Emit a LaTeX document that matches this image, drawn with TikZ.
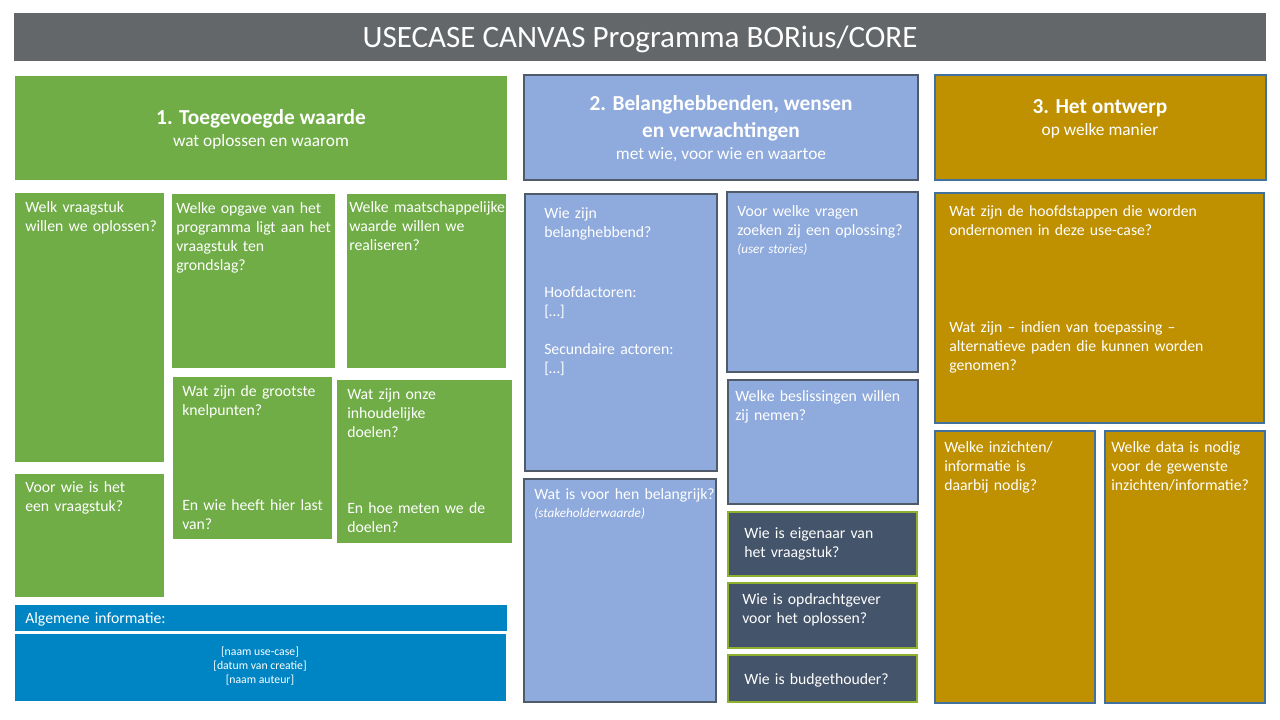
\documentclass[tikz,border=0pt]{standalone}
\usepackage{fontspec}
\setmainfont{Carlito}
\definecolor{titlegray}{HTML}{646769}
\definecolor{cgreen}{HTML}{70AD47}
\definecolor{cblue}{HTML}{8FAADC}
\definecolor{cblueline}{HTML}{4F5B68}
\definecolor{cgold}{HTML}{BF9000}
\definecolor{cgoldline}{HTML}{41719C}
\definecolor{cslate}{HTML}{44546A}
\definecolor{cslateline}{HTML}{8DB02E}
\definecolor{cinfo}{HTML}{0085C4}
\begin{document}
\begin{tikzpicture}[x=0.75pt,y=-0.75pt,
  greenbox/.style={fill=cgreen},
  bluebox/.style={fill=cblue,draw=cblueline,line width=1.5pt},
  goldbox/.style={fill=cgold,draw=cgoldline,line width=1.1pt},
  slatebox/.style={fill=cslate,draw=cslateline,line width=1.8pt},
  infobox/.style={fill=cinfo},
  txt/.style={text=white,inner sep=0pt,anchor=base west,align=left,text width=7cm,
    font=\fontsize{11.8}{14.25}\selectfont},
  note/.style={text=white,inner sep=0pt,anchor=base west,align=left,text width=7cm,
    font=\fontsize{9.9}{11}\selectfont\itshape},
  headbold/.style={text=white,inner sep=0pt,anchor=base,font=\fontsize{16}{19}\selectfont\bfseries},
  headsub/.style={text=white,inner sep=0pt,anchor=base,font=\fontsize{13}{15}\selectfont},
  titletxt/.style={text=white,inner sep=0pt,anchor=base,font=\fontsize{23.3}{27}\selectfont},
]
\useasboundingbox (0,0) rectangle (1280,720);
\fill[white] (0,0) rectangle (1280,720);

% title bar
\fill[titlegray] (14,13) rectangle (1266,61);
\node[titletxt] (title) at (640,48) {USECASE CANVAS Programma BORius/CORE};

% column headers
\fill[cgreen] (15,76) rectangle (507,180);
\node[headbold] (h1) at (261,125) {1. Toegevoegde waarde};
\node[headsub] (h1s) at (261,147) {wat oplossen en waarom};

\draw[bluebox] (524,75) rectangle (918,180);
\node[headbold] (h2a) at (721,111) {2. Belanghebbenden, wensen};
\node[headbold] (h2b) at (721,138) {en verwachtingen};
\node[headsub] (h2s) at (721,160) {met wie, voor wie en waartoe};

\draw[goldbox] (935,75) rectangle (1266,180);
\node[headbold] (h3) at (1100,114) {3. Het ontwerp};
\node[headsub] (h3s) at (1100,136) {op welke manier};

% column 1: added value
\fill[greenbox] (15,193) rectangle (164,462);
\node[txt] (a) at (25,213) {Welk vraagstuk\\willen we oplossen?};
\fill[greenbox] (172,194) rectangle (335,368);
\node[txt] (b) at (176,214) {Welke opgave van het\\programma ligt aan het\\vraagstuk ten\\grondslag?};
\fill[greenbox] (347,194) rectangle (506,368);
\node[txt] (c) at (349,213) {Welke maatschappelijke\\waarde willen we\\realiseren?};
\fill[greenbox] (15,474) rectangle (164,597);
\node[txt] (d) at (25,492) {Voor wie is het\\een vraagstuk?};
\fill[greenbox] (173,377) rectangle (332,539);
\node[txt] (e1) at (182,396) {Wat zijn de grootste\\knelpunten?};
\node[txt] (e2) at (182,510) {En wie heeft hier last\\van?};
\fill[greenbox] (337,380) rectangle (512,543);
\node[txt] (f1) at (347,399) {Wat zijn onze\\inhoudelijke\\doelen?};
\node[txt] (f2) at (347,513) {En hoe meten we de\\doelen?};

% general information
\fill[infobox] (15,605) rectangle (507,631);
\node[txt] (g0) at (25,623) {Algemene informatie:};
\fill[infobox] (15,634) rectangle (506,701);
\node[text=white,inner sep=0pt,anchor=north,align=center,
  font=\fontsize{8.8}{10.5}\selectfont] (info) at (260,647)
  {{[naam use-case]}\\{[datum van creatie]}\\{[naam auteur]}};

% column 2: stakeholders
\draw[bluebox] (525,194) rectangle (717,471);
\node[txt] (s1) at (544,219) {Wie zijn\\belanghebbend?};
\node[txt] (s2) at (544,297) {Hoofdactoren:\\{[…]}};
\node[txt] (s3) at (544,354) {Secundaire actoren:\\{[…]}};
\draw[bluebox] (727,192) rectangle (918,372);
\node[txt] (u1) at (737,217) {Voor welke vragen\\zoeken zij een oplossing?};
\node[note] (u2) at (737,253) {(user stories)};
\draw[bluebox] (728,380) rectangle (918,504);
\node[txt] (bs) at (735,401) {Welke beslissingen willen\\zij nemen?};
\draw[bluebox] (524,479) rectangle (716,702);
\node[txt] (w1) at (534,499) {Wat is voor hen belangrijk?};
\node[note] (w2) at (534,517) {(stakeholderwaarde)};

\draw[slatebox] (728,512) rectangle (917,576);
\node[txt] (k) at (744,538) {Wie is eigenaar van\\het vraagstuk?};
\draw[slatebox] (728,583) rectangle (917,648);
\node[txt] (l) at (742,604) {Wie is opdrachtgever\\voor het oplossen?};
\draw[slatebox] (728,655) rectangle (917,702);
\node[txt] (m) at (744,684) {Wie is budgethouder?};

% column 3: design
\draw[goldbox] (935,193) rectangle (1264,423);
\node[txt] (n1) at (949,217) {Wat zijn de hoofdstappen die worden\\ondernomen in deze use-case?};
\node[txt] (n2) at (949,332) {Wat zijn -- indien van toepassing --\\alternatieve paden die kunnen worden\\genomen?};
\draw[goldbox] (935,431) rectangle (1095,703);
\node[txt] (o) at (944,452) {Welke inzichten/\\informatie is\\daarbij nodig?};
\draw[goldbox] (1105,431) rectangle (1265,703);
\node[txt] (p) at (1111,452) {Welke data is nodig\\voor de gewenste\\inzichten/informatie?};
\end{tikzpicture}
\end{document}
